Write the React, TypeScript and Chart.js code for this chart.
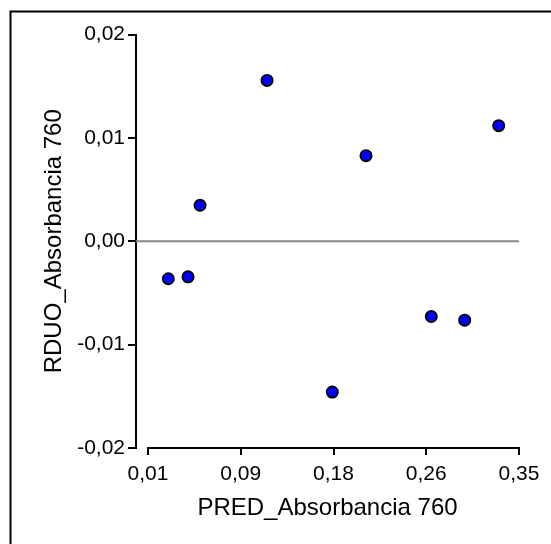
import React, { useEffect, useRef } from "react";
import { Chart, registerables } from "chart.js";

Chart.register(...registerables);

const predValues = [0.0286, 0.0467, 0.0577, 0.1191, 0.1789, 0.2098, 0.2696, 0.3002, 0.3314];
const residValues = [-0.00363, -0.00344, 0.00348, 0.01556, -0.01459, 0.00828, -0.00728, -0.00763, 0.01118];

const xTickValues = [0.01, 0.095, 0.18, 0.265, 0.35];
const xTickLabels = ["0,01", "0,09", "0,18", "0,26", "0,35"];
const yTickValues = [-0.02, -0.01, 0, 0.01, 0.02];
const yTickLabels = ["-0,02", "-0,01", "0,00", "0,01", "0,02"];

const xTitle = "PRED_Absorbancia 760";
const yTitle = "RDUO_Absorbancia 760";

const FONT = "'Liberation Sans', Arial, sans-serif";

const decorPlugin = {
  id: "decor",
  beforeDraw(chart: any) {
    const ctx = chart.ctx;
    ctx.save();
    ctx.strokeStyle = "#000";
    ctx.lineWidth = 2;
    ctx.beginPath();
    ctx.moveTo(10.5, 600);
    ctx.lineTo(10.5, 11.5);
    ctx.lineTo(600, 11.5);
    ctx.stroke();
    ctx.restore();
  },
  beforeDatasetsDraw(chart: any) {
    const { ctx, chartArea, scales } = chart;
    const x = scales.x;
    const y = scales.y;
    ctx.save();
    ctx.strokeStyle = "#888888";
    ctx.lineWidth = 2;
    const y0 = y.getPixelForValue(0);
    ctx.beginPath();
    ctx.moveTo(chartArea.left, y0);
    ctx.lineTo(x.getPixelForValue(xTickValues[xTickValues.length - 1]), y0);
    ctx.stroke();
    ctx.strokeStyle = "#000";
    ctx.lineWidth = 2;
    const yb = chartArea.bottom;
    ctx.beginPath();
    ctx.moveTo(x.getPixelForValue(xTickValues[0]) - 1, yb);
    ctx.lineTo(x.getPixelForValue(xTickValues[xTickValues.length - 1]) + 1, yb);
    ctx.stroke();
    ctx.restore();
  },
};

export default function App() {
  const ref = useRef<HTMLCanvasElement | null>(null);
  useEffect(() => {
    if (!ref.current) return;
    const chart = new Chart(ref.current, {
      type: "scatter",
      data: {
        datasets: [
          {
            data: predValues.map((v, i) => ({ x: v, y: residValues[i] })),
            backgroundColor: "#0000FF",
            borderColor: "#000000",
            borderWidth: 1.8,
            pointRadius: 5.6,
            pointHoverRadius: 5.6,
          },
        ],
      },
      options: {
        animation: false,
        responsive: false,
        devicePixelRatio: 1,
        layout: { padding: { left: 0, top: 34.5, right: 32, bottom: 0 } },
        plugins: { legend: { display: false }, tooltip: { enabled: false } },
        scales: {
          x: {
            type: "linear",
            min: -0.001,
            max: 0.35,
            afterBuildTicks: (s: any) => {
              s.ticks = xTickValues.map((v) => ({ value: v }));
            },
            afterFit: (s: any) => {
              s.height = 96;
            },
            border: { display: false },
            grid: {
              display: true,
              drawOnChartArea: false,
              drawTicks: true,
              tickLength: 7,
              color: "#000",
              lineWidth: 2,
            },
            ticks: {
              autoSkip: false,
              maxRotation: 0,
              padding: 7,
              color: "#000",
              font: { family: FONT, size: 21 },
              callback: (_v: any, i: number) => xTickLabels[i],
            },
            title: {
              display: true,
              text: xTitle,
              color: "#000",
              font: { family: FONT, size: 24 },
              padding: { top: 0, bottom: 21 },
            },
          },
          y: {
            type: "linear",
            min: -0.02,
            max: 0.02,
            afterBuildTicks: (s: any) => {
              s.ticks = yTickValues.map((v) => ({ value: v }));
            },
            afterFit: (s: any) => {
              s.width = 136;
            },
            border: { display: true, color: "#000", width: 2 },
            grid: {
              display: true,
              drawOnChartArea: false,
              drawTicks: true,
              tickLength: 8,
              color: "#000",
              lineWidth: 2,
            },
            ticks: {
              autoSkip: false,
              padding: 3,
              color: "#000",
              font: { family: FONT, size: 21 },
              callback: (_v: any, i: number) => yTickLabels[i],
            },
            title: {
              display: true,
              text: yTitle,
              color: "#000",
              font: { family: FONT, size: 24 },
              padding: { top: 40, bottom: 0 },
            },
          },
        },
      },
      plugins: [decorPlugin],
    });
    return () => chart.destroy();
  }, []);
  return (
    <div style={{ position: "absolute", left: 0, top: 0, width: 551, height: 544, background: "#fff" }}>
      <canvas ref={ref} width={551} height={544} style={{ display: "block", width: 551, height: 544 }} />
    </div>
  );
}
